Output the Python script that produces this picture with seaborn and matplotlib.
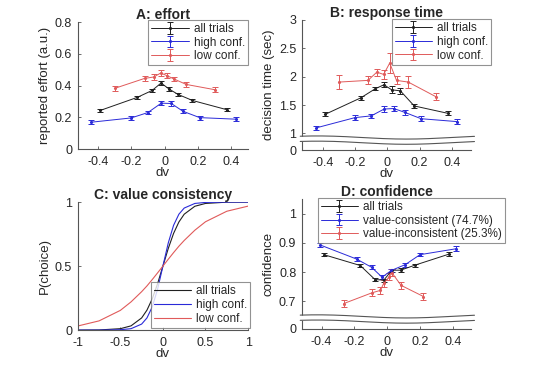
import numpy as np
import pandas as pd
import seaborn as sns
import matplotlib.pyplot as plt

# ---- data ----
# A: effort
dv_all = [-0.386, -0.165, -0.075, -0.021, 0.027, 0.081, 0.167, 0.376]
dv_high = [-0.44, -0.20, -0.10, -0.02, 0.04, 0.11, 0.21, 0.43]
dv_low = [-0.30, -0.12, -0.065, -0.023, 0.015, 0.057, 0.13, 0.30]

effort_all = [0.243, 0.325, 0.369, 0.416, 0.378, 0.344, 0.306, 0.247]
effort_all_err = [0.010, 0.010, 0.010, 0.012, 0.010, 0.010, 0.009, 0.010]
effort_high = [0.169, 0.196, 0.230, 0.289, 0.287, 0.238, 0.198, 0.188]
effort_high_err = [0.013, 0.012, 0.012, 0.014, 0.014, 0.012, 0.012, 0.014]
effort_low = [0.382, 0.445, 0.454, 0.479, 0.462, 0.441, 0.407, 0.374]
effort_low_err = [0.016, 0.015, 0.016, 0.016, 0.015, 0.015, 0.013, 0.016]

# B: response time
rt_all = [1.337, 1.627, 1.787, 1.858, 1.769, 1.751, 1.485, 1.355]
rt_all_err = [0.035, 0.040, 0.030, 0.040, 0.060, 0.050, 0.035, 0.035]
rt_high = [1.10, 1.28, 1.31, 1.43, 1.44, 1.37, 1.26, 1.21]
rt_high_err = [0.040, 0.040, 0.040, 0.050, 0.050, 0.045, 0.040, 0.050]
rt_low = [1.905, 1.935, 2.08, 2.04, 2.24, 1.935, 1.905, 1.65]
rt_low_err = [0.12, 0.07, 0.06, 0.08, 0.17, 0.07, 0.10, 0.06]

# C: value consistency (curves)
dv_curve = [-1, -0.75, -0.5, -0.375, -0.25, -0.1875, -0.125, -0.0625, 0,
            0.0625, 0.125, 0.1875, 0.25, 0.375, 0.5, 0.75, 1]
p_all = [0.0, 0.001, 0.011, 0.033, 0.095, 0.156, 0.245, 0.363, 0.5,
         0.637, 0.755, 0.844, 0.905, 0.967, 0.989, 0.999, 1.0]
p_high = [0.0, 0.0, 0.003, 0.011, 0.047, 0.095, 0.182, 0.32, 0.5,
          0.68, 0.818, 0.905, 0.953, 0.989, 0.997, 1.0, 1.0]
p_low = [0.032, 0.072, 0.154, 0.22, 0.30, 0.345, 0.395, 0.447, 0.5,
         0.553, 0.605, 0.655, 0.70, 0.78, 0.846, 0.928, 0.968]

# D: confidence
dv_cons = [-0.408, -0.187, -0.096, -0.032, 0.024, 0.109, 0.199, 0.416]
dv_incons = [-0.265, -0.092, -0.042, -0.022, 0.012, 0.028, 0.084, 0.22]
conf_all = [0.860, 0.823, 0.775, 0.773, 0.807, 0.807, 0.824, 0.862]
conf_all_err = [0.006, 0.005, 0.006, 0.005, 0.005, 0.006, 0.005, 0.006]
conf_cons = [0.893, 0.845, 0.817, 0.783, 0.806, 0.826, 0.860, 0.880]
conf_cons_err = [0.006, 0.006, 0.007, 0.006, 0.006, 0.007, 0.006, 0.008]
conf_incons = [0.693, 0.730, 0.738, 0.762, 0.785, 0.798, 0.755, 0.717]
conf_incons_err = [0.013, 0.012, 0.012, 0.012, 0.012, 0.012, 0.013, 0.013]

c_black = '#202020'
c_blue = '#2a2ad8'
c_red = '#e05a5a'

sns.set_style('white')
plt.rcParams['font.family'] = ['Liberation Sans', 'DejaVu Sans']
plt.rcParams['text.color'] = '#262626'
plt.rcParams['axes.labelcolor'] = '#262626'

fig = plt.figure(figsize=(5.44, 3.68), dpi=100)
axA = fig.add_axes([0.143, 0.595, 0.313, 0.345])
axB = fig.add_axes([0.555, 0.592, 0.311, 0.354])
axC = fig.add_axes([0.143, 0.103, 0.313, 0.348])
axD = fig.add_axes([0.555, 0.106, 0.311, 0.353])


def style_axes(ax, title, ylabel):
    sns.despine(ax=ax)
    for s in ['left', 'bottom']:
        ax.spines[s].set_color('#555555')
        ax.spines[s].set_linewidth(0.8)
    ax.tick_params(direction='in', length=2.5, width=0.6, colors='#555555',
                   labelsize=9, labelcolor='#262626',
                   left=True, bottom=True)
    ax.tick_params(axis='x', pad=5)
    ax.tick_params(axis='y', pad=4)
    ax.set_title(title, fontsize=10, fontweight='bold', pad=2)
    ax.set_ylabel(ylabel, fontsize=9.5, labelpad=3)
    ax.set_xlabel('dv', fontsize=9.5, labelpad=-1)


def err_plot(ax, x, y, e, color, label):
    ax.errorbar(x, y, yerr=e, color=color, lw=0.7, elinewidth=0.7,
                capsize=2.4, capthick=0.7, marker='.', ms=2.5, label=label)


def axis_break(ax):
    t = np.linspace(0, 1.03, 200)
    wave = 0.012 * np.sin(2 * np.pi * (t - 0.05) / 1.05 + np.pi / 2.5)
    up = 0.097 + wave
    lo = 0.057 + wave
    ax.fill_between(t - 0.01, lo, up, color='white', transform=ax.transAxes,
                    clip_on=False, zorder=5, lw=0)
    ax.plot(t - 0.01, up, color='#555555', lw=0.8, transform=ax.transAxes,
            clip_on=False, zorder=6)
    ax.plot(t - 0.01, lo, color='#555555', lw=0.8, transform=ax.transAxes,
            clip_on=False, zorder=6)


def legend(ax, loc, anchor):
    leg = ax.legend(loc=loc, bbox_to_anchor=anchor,
                    bbox_transform=fig.transFigure, fontsize=8.5,
                    frameon=True, fancybox=False, handlelength=3.2,
                    labelspacing=0.15, borderpad=0.25, handletextpad=0.4,
                    borderaxespad=0)
    leg.get_frame().set_edgecolor('#777777')
    leg.get_frame().set_linewidth(0.8)


# A
err_plot(axA, dv_all, effort_all, effort_all_err, c_black, 'all trials')
err_plot(axA, dv_high, effort_high, effort_high_err, c_blue, 'high conf.')
err_plot(axA, dv_low, effort_low, effort_low_err, c_red, 'low conf.')
axA.set_xlim(-0.52, 0.5)
axA.set_ylim(0, 0.8)
axA.set_xticks([-0.4, -0.2, 0, 0.2, 0.4])
axA.set_xticklabels(['-0.4', '-0.2', '0', '0.2', '0.4'])
axA.set_yticks([0, 0.2, 0.4, 0.6, 0.8])
axA.set_yticklabels(['0', '0.2', '0.4', '0.6', '0.8'])
style_axes(axA, 'A: effort', 'reported effort (a.u.)')
legend(axA, 'upper right', (0.456, 0.946))

# B
err_plot(axB, dv_all, rt_all, rt_all_err, c_black, 'all trials')
err_plot(axB, dv_high, rt_high, rt_high_err, c_blue, 'high conf.')
err_plot(axB, dv_low, rt_low, rt_low_err, c_red, 'low conf.')
axB.set_xlim(-0.53, 0.52)
axB.set_ylim(0.707, 3)
axB.set_xticks([-0.4, -0.2, 0, 0.2, 0.4])
axB.set_xticklabels(['-0.4', '-0.2', '0', '0.2', '0.4'])
axB.set_yticks([0.707, 1, 1.5, 2, 2.5, 3])
axB.set_yticklabels(['0', '1', '1.5', '2', '2.5', '3'])
style_axes(axB, 'B: response time', 'decision time (sec)')
axis_break(axB)
legend(axB, 'upper right', (0.903, 0.948))

# C
curves = pd.DataFrame({
    'dv': dv_curve * 3,
    'p': p_all + p_high + p_low,
    'group': ['all trials'] * len(dv_curve) + ['high conf.'] * len(dv_curve)
             + ['low conf.'] * len(dv_curve),
})
sns.lineplot(data=curves, x='dv', y='p', hue='group', ax=axC,
             palette=[c_black, c_blue, c_red], lw=0.8, legend=True)
axC.set_xlim(-1, 1)
axC.set_ylim(0, 1)
axC.set_xticks([-1, -0.5, 0, 0.5, 1])
axC.set_xticklabels(['-1', '-0.5', '0', '0.5', '1'])
axC.set_yticks([0, 0.5, 1])
axC.set_yticklabels(['0', '0.5', '1'])
style_axes(axC, 'C: value consistency', 'P(choice)')
legend(axC, 'lower right', (0.46, 0.109))
axC.get_legend().set_title(None)

# D
err_plot(axD, dv_all, conf_all, conf_all_err, c_black, 'all trials')
err_plot(axD, dv_cons, conf_cons, conf_cons_err, c_blue, 'value-consistent (74.7%)')
err_plot(axD, dv_incons, conf_incons, conf_incons_err, c_red, 'value-inconsistent (25.3%)')
axD.set_xlim(-0.52, 0.51)
axD.set_ylim(0.606, 1.05)
axD.set_xticks([-0.4, -0.2, 0, 0.2, 0.4])
axD.set_xticklabels(['-0.4', '-0.2', '0', '0.2', '0.4'])
axD.set_yticks([0.606, 0.7, 0.8, 0.9, 1])
axD.set_yticklabels(['0', '0.7', '0.8', '0.9', '1'])
style_axes(axD, 'D: confidence', 'confidence')
axis_break(axD)
legend(axD, 'upper right', (0.928, 0.462))

fig.savefig('out.png', dpi=100)
